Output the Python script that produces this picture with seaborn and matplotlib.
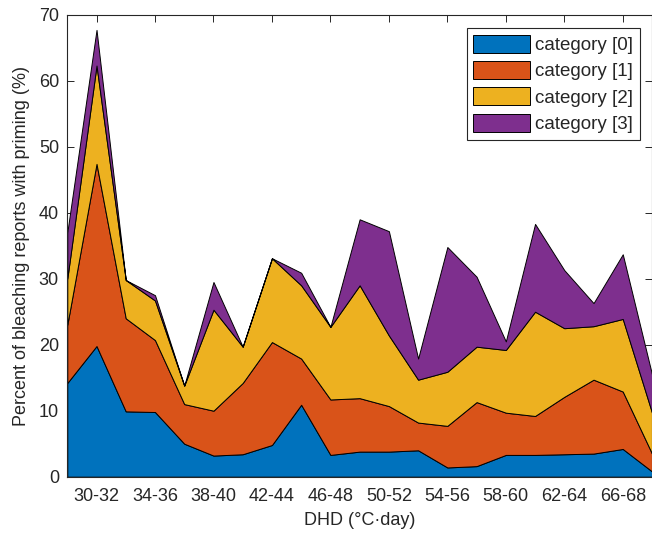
import numpy as np
import pandas as pd
import matplotlib
matplotlib.use("Agg")
import matplotlib.pyplot as plt
import seaborn as sns

# DHD bins (°C·day)
dhd_bins = ["28-30", "30-32", "32-34", "34-36", "36-38", "38-40", "40-42",
            "42-44", "44-46", "46-48", "48-50", "50-52", "52-54", "54-56",
            "56-58", "58-60", "60-62", "62-64", "64-66", "66-68", "68-70"]

# Percent of bleaching reports with priming, per category (stacked layers)
category_0 = [14.2, 19.8, 9.9, 9.8, 5.0, 3.2, 3.4, 4.8, 10.9, 3.3, 3.8,
              3.8, 4.0, 1.4, 1.6, 3.3, 3.3, 3.4, 3.5, 4.2, 0.8]
category_1 = [8.8, 27.6, 14.1, 10.9, 6.0, 6.8, 10.8, 15.6, 7.0, 8.4, 8.1,
              6.9, 4.2, 6.3, 9.7, 6.4, 5.9, 8.7, 11.2, 8.7, 2.7]
category_2 = [7.0, 14.9, 5.8, 6.0, 2.8, 15.3, 5.5, 12.7, 11.1, 11.0, 17.1,
              10.7, 6.5, 8.2, 8.4, 9.5, 15.8, 10.4, 8.1, 11.0, 6.2]
category_3 = [7.0, 5.4, 0.0, 0.8, 0.0, 4.2, 0.0, 0.0, 1.9, 0.0, 10.0,
              15.8, 3.2, 18.9, 10.6, 1.3, 13.3, 8.8, 3.5, 9.8, 5.8]

series_names = ["category [0]", "category [1]", "category [2]", "category [3]"]
series_colors = ["#0072BD", "#D95319", "#EDB120", "#7E2F8E"]

df = pd.DataFrame({
    "bin": dhd_bins,
    series_names[0]: category_0,
    series_names[1]: category_1,
    series_names[2]: category_2,
    series_names[3]: category_3,
})
df["x"] = np.arange(len(df))

sns.set_theme(style="ticks")
plt.rcParams["font.family"] = ["Liberation Sans", "DejaVu Sans"]
text_color = "#262626"

fig = plt.figure(figsize=(6.52, 5.39), dpi=100)
ax = fig.add_axes([0.1032, 0.1156, 0.8968, 0.8571])

ax.stackplot(df["x"], [df[n] for n in series_names], labels=series_names,
             colors=series_colors, edgecolor="black", linewidth=0.7)

ax.set_xlim(df["x"].iloc[0], df["x"].iloc[-1])
ax.set_ylim(0, 70)
ax.set_yticks(np.arange(0, 71, 10))
tick_idx = df["x"].iloc[1:-1:2]
ax.set_xticks(tick_idx)
ax.set_xticklabels(df["bin"].iloc[1:-1:2])

ax.tick_params(axis="both", which="both", direction="in", length=5,
               width=0.7, colors=text_color, labelsize=13,
               top=True, right=True, labelcolor=text_color)
ax.tick_params(axis="x", pad=8)
ax.tick_params(axis="y", pad=6)
for side in ["left", "right", "top", "bottom"]:
    ax.spines[side].set_visible(True)
    ax.spines[side].set_color(text_color)
    ax.spines[side].set_linewidth(0.8)

ax.set_xlabel("DHD (\u00b0C\u00b7day)", fontsize=13, color=text_color, labelpad=5)
ax.set_ylabel("Percent of bleaching reports with priming (%)", fontsize=13,
              color=text_color, labelpad=6)

leg = ax.legend(loc="upper right", bbox_to_anchor=(0.979, 0.971),
                borderaxespad=0, fontsize=13.5, frameon=True, fancybox=False,
                edgecolor=text_color, framealpha=1, handlelength=3.0,
                handleheight=1.1, labelspacing=0.37, handletextpad=0.3,
                borderpad=0.35)
leg.get_frame().set_linewidth(0.8)
for t in leg.get_texts():
    t.set_color(text_color)

fig.savefig("out.png", dpi=100)
